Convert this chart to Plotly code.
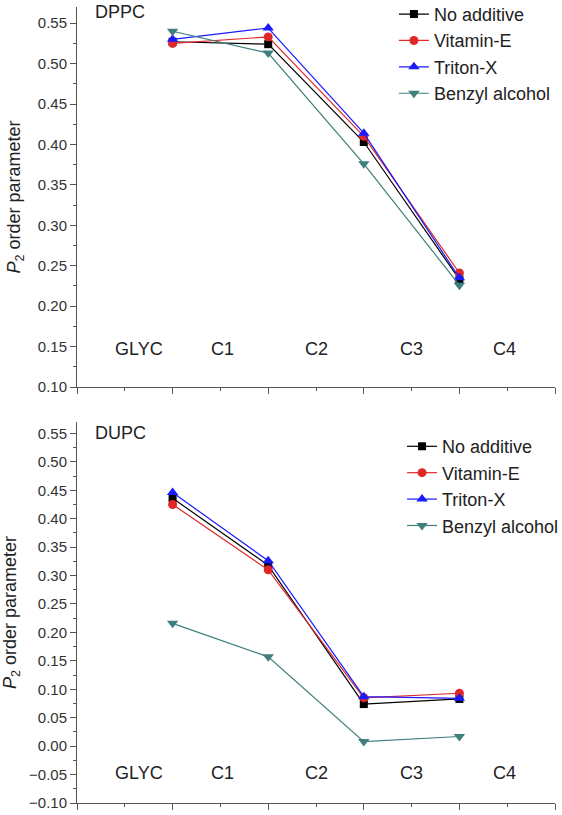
import plotly.graph_objects as go

# ---- data ----
bond_x = [1, 2, 3, 4]
series_names = ["No additive", "Vitamin-E", "Triton-X", "Benzyl alcohol"]

dppc_no_additive = [0.527, 0.524, 0.403, 0.233]
dppc_vitamin_e = [0.525, 0.533, 0.410, 0.241]
dppc_triton_x = [0.530, 0.544, 0.414, 0.235]
dppc_benzyl = [0.540, 0.513, 0.376, 0.226]

dupc_no_additive = [0.436, 0.318, 0.074, 0.083]
dupc_vitamin_e = [0.425, 0.310, 0.085, 0.093]
dupc_triton_x = [0.446, 0.326, 0.087, 0.084]
dupc_benzyl = [0.216, 0.157, 0.008, 0.017]

bead_labels = ["GLYC", "C1", "C2", "C3", "C4"]
bead_label_x = [0.65, 1.52, 2.5, 3.5, 4.47]

colors = ["#000000", "#e02828", "#1a1aff", "#3f7f7c"]
symbols = ["square", "circle", "triangle-up", "triangle-down"]
sizes = [8, 9, 10, 10]

FONT = "Liberation Sans, Arial, sans-serif"

fig = go.Figure()

top_sets = [dppc_no_additive, dppc_vitamin_e, dppc_triton_x, dppc_benzyl]
bot_sets = [dupc_no_additive, dupc_vitamin_e, dupc_triton_x, dupc_benzyl]

for i, name in enumerate(series_names):
    fig.add_trace(go.Scatter(
        x=bond_x, y=top_sets[i], name=name, mode="lines+markers",
        line=dict(color=colors[i], width=1.2),
        marker=dict(symbol=symbols[i], size=sizes[i], color=colors[i]),
        xaxis="x", yaxis="y", legend="legend"))
for i, name in enumerate(series_names):
    fig.add_trace(go.Scatter(
        x=bond_x, y=bot_sets[i], name=name, mode="lines+markers",
        line=dict(color=colors[i], width=1.2),
        marker=dict(symbol=symbols[i], size=sizes[i], color=colors[i]),
        xaxis="x2", yaxis="y2", legend="legend2"))

axis_col = "#555555"
tick_font = dict(family=FONT, size=15, color="#333333")
title_text = "<i>P</i><sub>2</sub> order parameter"

xcommon = dict(range=[0, 5], showline=True, linecolor=axis_col, linewidth=1,
               ticks="outside", tickcolor=axis_col, ticklen=6, dtick=1, tick0=0,
               showticklabels=False, showgrid=False, zeroline=False, automargin=False,
               minor=dict(ticks="outside", ticklen=3, dtick=0.5, tickcolor=axis_col, showgrid=False))
ycommon = dict(showline=True, linecolor=axis_col, linewidth=1,
               ticks="outside", tickcolor=axis_col, ticklen=6, dtick=0.05,
               tickformat=".2f", tickfont=tick_font, showgrid=False, zeroline=False,
               automargin=False,
               minor=dict(ticks="outside", ticklen=3, dtick=0.025, tickcolor=axis_col, showgrid=False),
               title=dict(text=title_text, font=dict(family=FONT, size=18, color="#222222"), standoff=12))

top_dom = [0.5226, 1.0]
bot_dom = [0.0, 0.4786]

fig.update_layout(
    width=562, height=815,
    margin=dict(l=77, r=7, t=7, b=12, autoexpand=False),
    paper_bgcolor="white", plot_bgcolor="white",
    font=dict(family=FONT, color="#222222"),
    xaxis=dict(domain=[0, 1], anchor="y", **xcommon),
    yaxis=dict(domain=top_dom, anchor="x", range=[0.10, 0.57], tick0=0.10, **ycommon),
    xaxis2=dict(domain=[0, 1], anchor="y2", **xcommon),
    yaxis2=dict(domain=bot_dom, anchor="x2", range=[-0.10, 0.57], tick0=-0.10, **ycommon),
    legend=dict(x=0.663, y=1.014, xanchor="left", yanchor="top",
                font=dict(family=FONT, size=18, color="#222222"),
                bgcolor="rgba(0,0,0,0)", tracegroupgap=0, itemwidth=30),
    legend2=dict(x=0.680, y=0.471, xanchor="left", yanchor="top",
                 font=dict(family=FONT, size=18, color="#222222"),
                 bgcolor="rgba(0,0,0,0)", tracegroupgap=0, itemwidth=30),
    showlegend=True,
)

annotations = []
for lab, lx in zip(bead_labels, bead_label_x):
    annotations.append(dict(x=lx, y=0.147, xref="x", yref="y", text=lab, showarrow=False,
                            font=dict(family=FONT, size=18, color="#222222")))
    annotations.append(dict(x=lx, y=-0.048, xref="x2", yref="y2", text=lab, showarrow=False,
                            font=dict(family=FONT, size=18, color="#222222")))
annotations.append(dict(x=0.0335, y=1.0, xref="paper", yref="paper", xanchor="left", yanchor="top",
                        yshift=7, text="DPPC", showarrow=False,
                        font=dict(family=FONT, size=18, color="#222222")))
annotations.append(dict(x=0.0335, y=bot_dom[1], xref="paper", yref="paper", xanchor="left", yanchor="top",
                        yshift=1, text="DUPC", showarrow=False,
                        font=dict(family=FONT, size=18, color="#222222")))
fig.update_layout(annotations=annotations)

fig.write_html("out.html", config={"displayModeBar": False},
               post_script="document.body.style.margin='0';")
